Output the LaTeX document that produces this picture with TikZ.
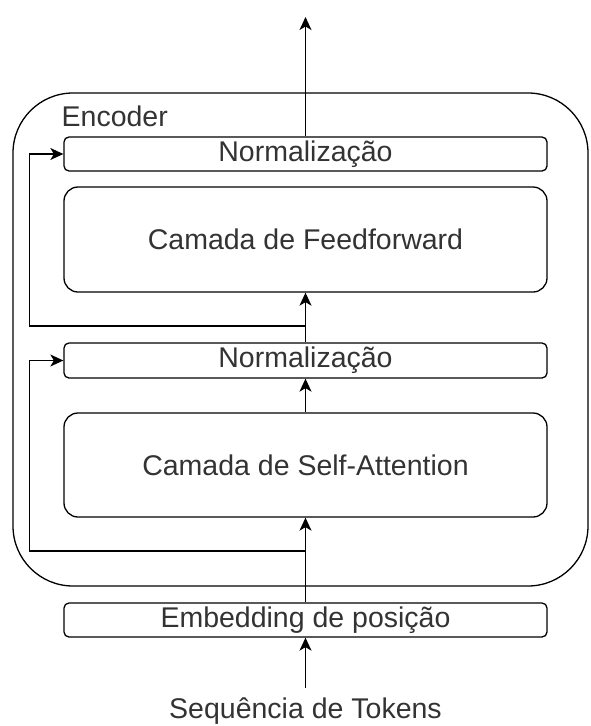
\documentclass[tikz,border=0pt]{standalone}
\usepackage{fontspec}
\setmainfont{Liberation Sans}
\usetikzlibrary{arrows.meta}

\begin{document}
\begin{tikzpicture}[x=1pt,y=-1pt,line width=1.3pt,
    font=\fontsize{28.5}{34}\selectfont, text=black!80,
    arr/.style={-{Stealth[length=13pt,width=12pt,inset=3.5pt]}},
    thinlayer/.style={draw,rounded corners=5pt,minimum width=483pt,minimum height=34pt,inner sep=0pt},
    biglayer/.style={draw,rounded corners=14pt,minimum width=483pt,minimum height=104pt,inner sep=0pt}]

    \useasboundingbox (0,0) rectangle (590,726);

    \node[draw,rounded corners=60pt,minimum width=575pt,minimum height=493pt] (encoder) at (300.5,339.5) {};
    \node[anchor=west,inner sep=0pt] (enclabel) at (61,116) {Encoder};

    \node[thinlayer] (norm1) at (305.5,154) {Normalização};
    \node[biglayer,minimum height=105pt] (ff) at (305.5,239.5) {Camada de Feedforward};
    \node[thinlayer,minimum height=35pt] (norm2) at (305.5,360.5) {Normalização};
    \node[biglayer] (sa) at (305.5,465) {Camada de Self-Attention};
    \node[thinlayer] (emb) at (305.5,620) {Embedding de posição};

    \node (tokens) at (305.5,711) {Sequência de Tokens};

    \coordinate (out) at (305.5,17);
    \coordinate (in) at (305.5,688);
    \coordinate (j1) at (305.5,326);
    \coordinate (j2) at (305.5,551);

    % main path
    \draw[arr] (in) -- (emb);
    \draw[arr] (emb) -- (sa);
    \draw[arr] (sa) -- (norm2);
    \draw[arr] (norm2) -- (ff);
    \draw[arr] (norm1) -- (out);

    % residual connections
    \draw[arr] (j2) -| ([xshift=-34pt]norm2.west) -- (norm2.west);
    \draw[arr] (j1) -| ([xshift=-34pt]norm1.west) -- (norm1.west);
\end{tikzpicture}
\end{document}
